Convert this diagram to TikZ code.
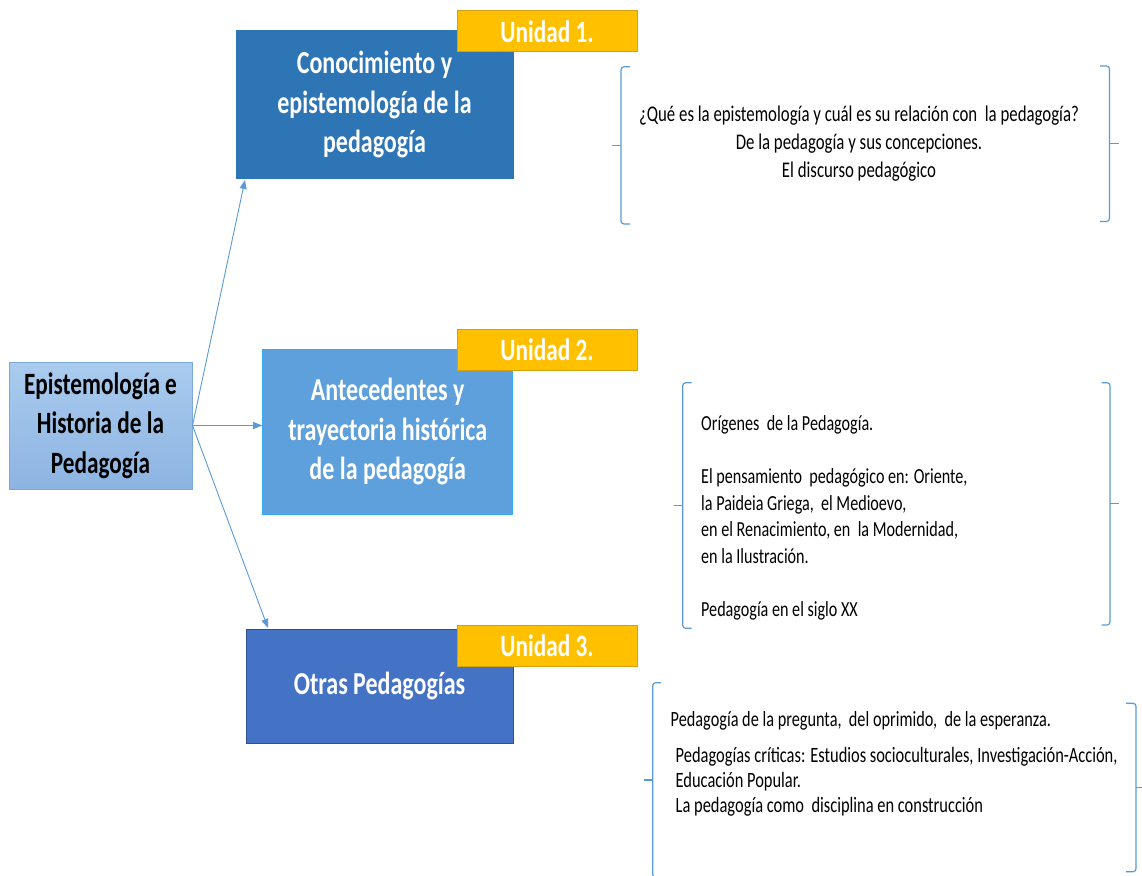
\documentclass[tikz,border=0pt]{standalone}
\usepackage{fontspec}
\setmainfont{Carlito}[FakeStretch=0.75]
\usetikzlibrary{arrows.meta}
\definecolor{linkblue}{HTML}{5B9BD5}
\definecolor{roottop}{HTML}{A9CBEE}
\definecolor{rootbottom}{HTML}{8DB4E2}
\definecolor{rootedge}{HTML}{7BA7DB}
\definecolor{oneblue}{HTML}{2E75B6}
\definecolor{twoblue}{HTML}{5DA0DB}
\definecolor{twoedge}{HTML}{35AAF0}
\definecolor{threeblue}{HTML}{4472C4}
\definecolor{threeedge}{HTML}{2F528F}
\definecolor{tagyellow}{HTML}{FFC000}
\definecolor{tagedge}{HTML}{D4A20F}
% bracket: x, top, tick, bottom, stub (+ opens right, - opens left)
\newcommand{\curlbracket}[5]{%
  \draw[bracket] (#1+#5,#2) -- (#1,#2) -- (#1,#4) -- (#1+#5,#4);
  \draw[bracket] (#1,#3) -- (#1-#5,#3);}

\begin{document}
\begin{tikzpicture}[x=1pt,y=-1pt,
  unitbox/.style={inner sep=0pt, align=center, text=white, line width=1pt,
    font=\bfseries\fontsize{32}{39.5}\selectfont},
  unitlabel/.style={fill=tagyellow, draw=tagedge, line width=1pt, inner sep=0pt,
    minimum width=180pt, minimum height=41pt, text=white,
    font=\bfseries\fontsize{31}{36}\selectfont},
  topics/.style={inner sep=0pt, font=\fontsize{21.5}{26.5}\selectfont},
  link/.style={draw=linkblue, line width=0.9pt, -{Triangle[length=9pt,width=7pt]}},
  bracket/.style={draw=linkblue, line width=1.2pt, rounded corners=3pt}]
  \fill[white] (0,0) rectangle (1142,875);
  \useasboundingbox (0,0) rectangle (1142,875);

  % left node
  \node[draw=rootedge, line width=1pt, top color=roottop, bottom color=rootbottom,
        minimum width=183pt, minimum height=127pt, inner sep=0pt, align=center,
        font=\bfseries\fontsize{31}{39.5}\selectfont]
        (root) at (100.5,425.5) {Epistemología e\\Historia de la\\Pedagogía};

  % the three units
  \node[unitbox, fill=oneblue, draw=oneblue, minimum width=277pt, minimum height=147pt]
        (unit1) at (374.5,104.5) {Conocimiento y\\epistemología de la\\pedagogía};
  \node[unitbox, fill=twoblue, draw=twoedge, minimum width=250pt, minimum height=165pt]
        (unit2) at (387.7,431.6) {Antecedentes y\\trayectoria histórica\\de la pedagogía};
  \node[unitbox, fill=threeblue, draw=threeedge, minimum width=267pt, minimum height=114pt]
        (unit3) at (379.5,686) {Otras Pedagogías};

  \node[unitlabel] (tag1) at (547,31.5) {Unidad 1.};
  \node[unitlabel] (tag2) at (547,349.5) {Unidad 2.};
  \node[unitlabel] (tag3) at (547,646) {Unidad 3.};

  % arrows
  \coordinate (in1) at (245,180);
  \coordinate (in3) at (268,628);
  \draw[link] (root.east) -- (in1);
  \draw[link] (root.east) -- (root.east -| unit2.west);
  \draw[link] (root.east) -- (in3);

  % contents
  \node[topics, align=center, font=\fontsize{22.4}{28}\selectfont] (topics1) at (859,143.5)
    {¿Qué es la epistemología y cuál es su relación con\ \ la pedagogía?\\
     De la pedagogía y sus concepciones.\\El discurso pedagógico};
  \curlbracket{621}{66.7}{145.3}{224}{9}
  \curlbracket{1109.5}{66}{143.5}{221.5}{-9.5}

  \node[topics, align=left, anchor=west] (topics2) at (701,518)
    {Orígenes\ \ de la Pedagogía.\\[26.5pt]
     El pensamiento\ \ pedagógico en: Oriente,\\
     la Paideia Griega,\ \ el Medioevo,\\
     en el Renacimiento, en\ \ la Modernidad,\\
     en la Ilustración.\\[26.5pt]
     Pedagogía en el siglo XX};
  \curlbracket{682.7}{382.7}{505.5}{628.3}{9}
  \curlbracket{1110}{382.7}{503.8}{625}{-8.5}

  \node[topics, anchor=west, font=\fontsize{21.7}{25}\selectfont] (topics3a) at (670.5,721)
    {Pedagogía de la pregunta,\ \ del oprimido,\ \ de la esperanza.};
  \node[topics, align=left, anchor=west, font=\fontsize{21.9}{25}\selectfont] (topics3b) at (675.5,782)
    {Pedagogías críticas: Estudios socioculturales, Investigación-Acción,\\
     Educación Popular.\\
     La pedagogía como\ \ disciplina en construcción};
  \curlbracket{652.7}{682.7}{780}{877.3}{8.5}
  \curlbracket{1136}{703.3}{787.5}{871.7}{-10}
\end{tikzpicture}
\end{document}
